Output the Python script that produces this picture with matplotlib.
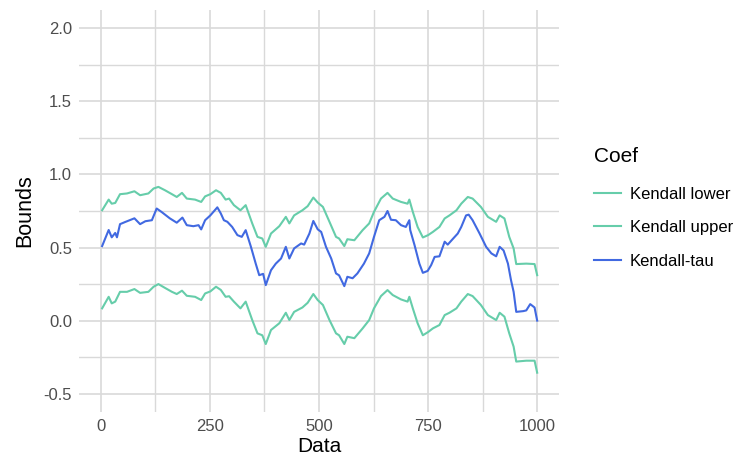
import matplotlib
matplotlib.use("Agg")
import matplotlib.pyplot as plt
from matplotlib.ticker import MultipleLocator

# ---- data ----
tau_x = [3, 18, 25, 33, 37, 44, 56, 77, 90, 102, 117, 128, 139, 158, 174, 187, 197, 212, 224, 230, 239,
         251, 267, 275, 282, 290, 301, 313, 323, 332, 344, 355, 363, 372, 378, 390, 401, 413, 424, 432,
         443, 459, 466, 478, 487, 497, 505, 516, 528, 539, 546, 558, 565, 577, 588, 603, 615, 626, 638,
         650, 657, 665, 676, 688, 699, 707, 709, 719, 730, 738, 749, 757, 765, 776, 788, 795, 807, 818,
         826, 837, 843, 852, 868, 883, 895, 906, 914, 923, 933, 940, 946, 952, 968, 975, 984, 994, 1000]
tau_y = [0.51, 0.62, 0.57, 0.60, 0.57, 0.66, 0.675, 0.70, 0.66, 0.68, 0.687, 0.767, 0.744, 0.70, 0.67,
         0.705, 0.653, 0.646, 0.653, 0.624, 0.687, 0.72, 0.775, 0.733, 0.687, 0.676, 0.641, 0.585, 0.573,
         0.619, 0.505, 0.39, 0.311, 0.32, 0.243, 0.345, 0.39, 0.425, 0.505, 0.425, 0.494, 0.528, 0.52,
         0.596, 0.682, 0.625, 0.607, 0.505, 0.425, 0.323, 0.31, 0.236, 0.30, 0.29, 0.323, 0.39, 0.46,
         0.573, 0.687, 0.71, 0.75, 0.69, 0.687, 0.653, 0.641, 0.687, 0.62, 0.516, 0.39, 0.327, 0.34,
         0.38, 0.436, 0.44, 0.54, 0.52, 0.56, 0.596, 0.641, 0.72, 0.725, 0.687, 0.596, 0.505, 0.46, 0.44,
         0.505, 0.48, 0.39, 0.277, 0.197, 0.06, 0.065, 0.07, 0.113, 0.09, 0.0]

up_x = [3, 18, 25, 33, 44, 60, 77, 90, 109, 121, 132, 147, 163, 174, 186, 197, 216, 230, 239, 251,
        264, 275, 286, 294, 305, 320, 332, 347, 359, 370, 378, 390, 409, 424, 432, 443, 462, 474, 487,
        497, 509, 524, 539, 546, 558, 565, 581, 600, 615, 626, 642, 657, 669, 688, 703, 707, 715, 726,
        738, 750, 761, 776, 788, 799, 815, 826, 841, 852, 871, 887, 906, 914, 925, 936, 946, 952, 975,
        994, 1000]
up_y = [0.755, 0.828, 0.80, 0.805, 0.865, 0.87, 0.885, 0.858, 0.87, 0.904, 0.915, 0.892, 0.865, 0.846,
        0.874, 0.835, 0.828, 0.812, 0.85, 0.865, 0.892, 0.874, 0.828, 0.835, 0.79, 0.755, 0.79, 0.665,
        0.573, 0.562, 0.505, 0.596, 0.646, 0.71, 0.665, 0.72, 0.755, 0.783, 0.842, 0.808, 0.778, 0.676,
        0.573, 0.562, 0.51, 0.557, 0.55, 0.619, 0.665, 0.744, 0.835, 0.874, 0.835, 0.812, 0.80, 0.828,
        0.744, 0.641, 0.569, 0.585, 0.607, 0.641, 0.699, 0.72, 0.755, 0.80, 0.846, 0.835, 0.778, 0.71,
        0.676, 0.72, 0.699, 0.573, 0.494, 0.387, 0.39, 0.387, 0.311]

lo_x = [3, 18, 25, 33, 44, 60, 77, 90, 109, 121, 132, 147, 163, 174, 186, 197, 216, 230, 239, 251,
        264, 275, 286, 294, 305, 320, 332, 347, 359, 370, 378, 390, 409, 424, 432, 443, 462, 474, 487,
        497, 509, 524, 539, 546, 558, 565, 581, 600, 615, 626, 642, 657, 669, 688, 703, 707, 715, 726,
        738, 750, 761, 776, 788, 799, 815, 826, 841, 852, 871, 887, 906, 914, 925, 936, 946, 952, 975,
        994, 1000]
lo_y = [0.084, 0.163, 0.118, 0.13, 0.197, 0.197, 0.216, 0.19, 0.197, 0.232, 0.25, 0.224, 0.197, 0.182,
        0.205, 0.17, 0.163, 0.141, 0.186, 0.2, 0.232, 0.21, 0.163, 0.167, 0.13, 0.084, 0.13, 0.004,
        -0.087, -0.1, -0.16, -0.064, -0.018, 0.054, 0.004, 0.06, 0.09, 0.122, 0.182, 0.141, 0.107, 0.004,
        -0.087, -0.1, -0.16, -0.11, -0.12, -0.053, 0.004, 0.084, 0.168, 0.209, 0.175, 0.145, 0.13, 0.163,
        0.084, -0.018, -0.1, -0.078, -0.053, -0.03, 0.038, 0.054, 0.084, 0.13, 0.182, 0.168, 0.107, 0.038,
        0.004, 0.054, 0.027, -0.087, -0.178, -0.28, -0.274, -0.274, -0.356]

series_names = ["Kendall lower", "Kendall upper", "Kendall-tau"]
series_colors = ["#66CDAA", "#66CDAA", "#4169E1"]

x_ticks = [0, 250, 500, 750, 1000]
y_ticks = [-0.5, 0.0, 0.5, 1.0, 1.5, 2.0]

# ---- plot ----
plt.rcParams['font.family'] = ['Liberation Sans', 'DejaVu Sans']
fig = plt.figure(figsize=(7.39, 4.63), dpi=100)
ax = fig.add_axes([79 / 739, 1 - 412 / 463, 480 / 739, 402 / 463])

data = [(lo_x, lo_y), (up_x, up_y), (tau_x, tau_y)]
for (xs, ys), name, col in zip(data, series_names, series_colors):
    ax.plot(xs, ys, color=col, lw=1.5, label=name, zorder=3)

ax.set_xlim(-50, 1050)
ax.set_ylim(-0.625, 2.125)
ax.set_xticks(x_ticks)
ax.set_xticklabels([str(t) for t in x_ticks])
ax.set_yticks(y_ticks)
ax.set_yticklabels([f"{t:.1f}" for t in y_ticks])
ax.xaxis.set_minor_locator(MultipleLocator(125))
ax.yaxis.set_minor_locator(MultipleLocator(0.25))

grid_col = "#d9d9d9"
ax.grid(True, which="major", color=grid_col, lw=1.2, zorder=0)
ax.grid(True, which="minor", color=grid_col, lw=1.0, zorder=0)
ax.set_axisbelow(True)
for s in ax.spines.values():
    s.set_visible(False)
ax.tick_params(which="both", length=0, labelsize=12, labelcolor="#4d4d4d", pad=5)

ax.set_xlabel("Data", fontsize=15, color="black", labelpad=2)
ax.set_ylabel("Bounds", fontsize=15.5, color="black", labelpad=6)

leg = ax.legend(loc="upper left", bbox_to_anchor=(1.073, 0.66), frameon=False,
                title="Coef", fontsize=12, title_fontsize=15, handlelength=1.6,
                labelspacing=1.12, handletextpad=0.55, alignment="left",
                borderaxespad=0, borderpad=0)
leg._legend_box.sep = 15

fig.savefig("out.png", dpi=100)
